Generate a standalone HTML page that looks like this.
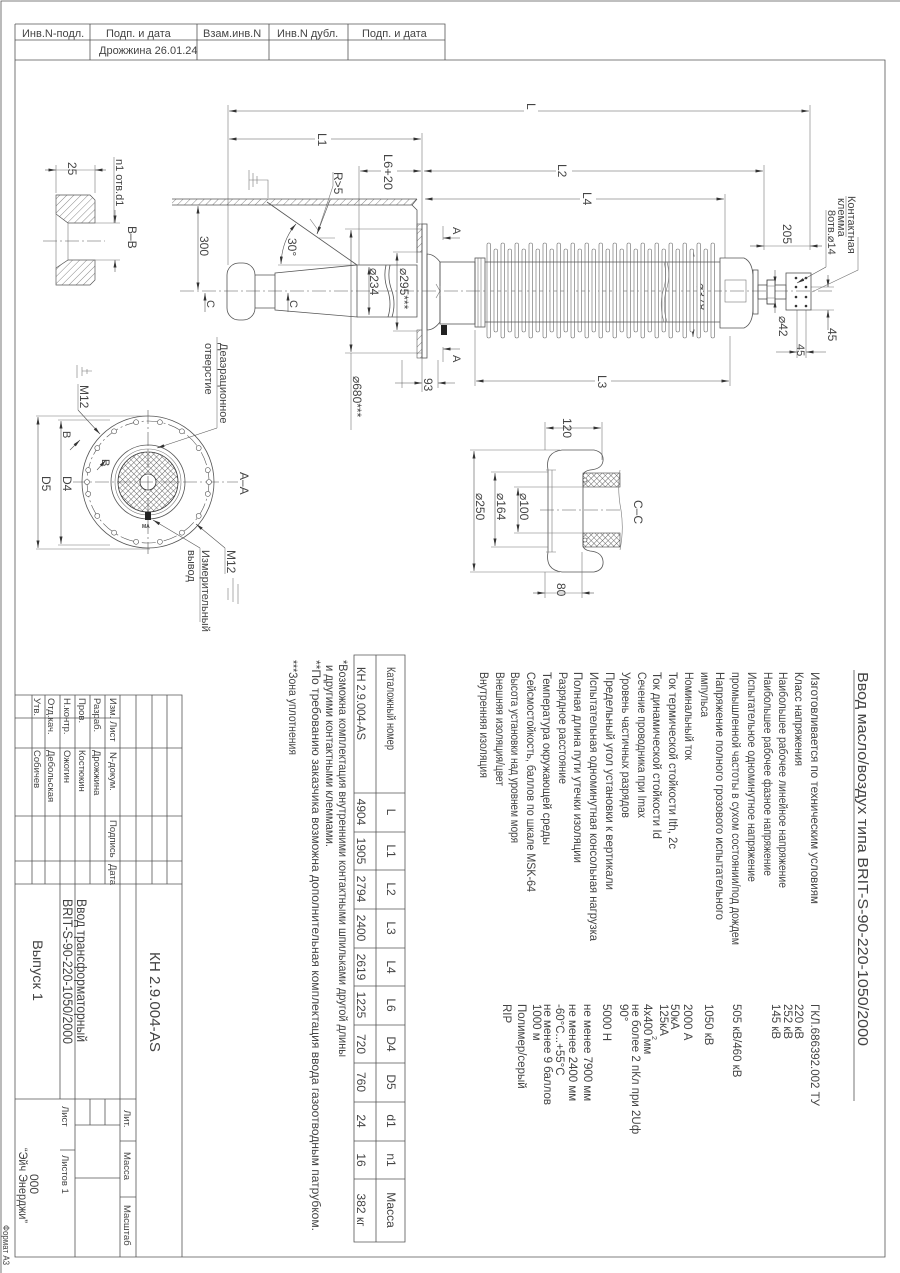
<!DOCTYPE html>
<html><head><meta charset="utf-8"><style>
html,body{margin:0;padding:0;background:#fff}
svg{display:block}
text{font-family:"Liberation Sans Narrow","Liberation Sans",sans-serif;fill:#444}
.l{stroke:#555;stroke-width:.8;fill:none}
.t{stroke:#777;stroke-width:.6;fill:none}
.d{stroke:#555;stroke-width:.6;fill:none;marker-start:url(#a);marker-end:url(#a)}
.e{stroke:#555;stroke-width:.6;fill:none;marker-end:url(#a)}
.c{stroke:#555;stroke-width:.6;fill:none;stroke-dasharray:14 3 2 3}
</style></head><body>
<svg width="900" height="1273" viewBox="0 0 900 1273" xmlns="http://www.w3.org/2000/svg">
<defs>
<marker id="a" viewBox="0 0 10 4" refX="10" refY="2" markerWidth="8" markerHeight="3" markerUnits="userSpaceOnUse" orient="auto-start-reverse"><path d="M0,0L10,2L0,4z" fill="#333"/></marker>
<pattern id="h" width="5" height="5" patternUnits="userSpaceOnUse" patternTransform="rotate(45)"><line x1="0" y1="0" x2="0" y2="5" stroke="#555" stroke-width=".7"/></pattern>
<pattern id="x" width="4" height="4" patternUnits="userSpaceOnUse" patternTransform="rotate(45)"><path d="M0,0V4M0,0H4" stroke="#444" stroke-width=".8"/></pattern>
</defs>
<rect width="900" height="1273" fill="#fff"/>
<path class="l" d="M1,1273V1H900"/>
<path class="l" d="M15,24V1257H885V60H15"/>
<path class="l" d="M15,24H445V60M15,40H445M90,24V60M197,24V60M269,24V60M348,24V60"/>
<g font-size="11">
<text x="22" y="37">Инв.N-подл.</text><text x="106" y="37">Подп. и дата</text><text x="203" y="37">Взам.инв.N</text><text x="277" y="37">Инв.N дубл.</text><text x="362" y="37">Подп. и дата</text>
<text x="99" y="54">Дрожжина 26.01.24</text>
</g>

<line class="c" x1="180" y1="291" x2="835" y2="291"/>
<path class="t" d="M228,105V265M422,133V392M359,166V265M764,165V250M810,105V250M725,194V258M730,336V386M475,330V386M402,360V388M438,360V388"/>
<line class="d" x1="229" y1="111" x2="809" y2="111"/>
<rect x="524" y="100" width="14" height="20" fill="#fff"/>
<text transform="translate(527,103) rotate(90)" font-size="12">L</text>
<line class="d" x1="229" y1="139" x2="421" y2="139"/>
<rect x="315" y="130" width="16" height="20" fill="#fff"/>
<text transform="translate(318,133) rotate(90)" font-size="12">L1</text>
<line class="d" x1="360" y1="171" x2="421" y2="171"/>
<rect x="381" y="153" width="16" height="38" fill="#fff"/>
<text transform="translate(384,154) rotate(90)" font-size="12" textLength="36" lengthAdjust="spacingAndGlyphs">L6+20</text>
<line class="d" x1="424" y1="171" x2="763" y2="171"/>
<rect x="556" y="162" width="16" height="20" fill="#fff"/>
<text transform="translate(558,164) rotate(90)" font-size="12">L2</text>
<line class="d" x1="425" y1="199" x2="724" y2="199"/>
<rect x="580" y="190" width="16" height="20" fill="#fff"/>
<text transform="translate(583,192) rotate(90)" font-size="12">L4</text>
<line class="d" x1="476" y1="381" x2="729" y2="381"/>
<rect x="595" y="372" width="16" height="22" fill="#fff"/>
<text transform="translate(598,375) rotate(90)" font-size="12">L3</text>
<line class="e" x1="395" y1="383" x2="422" y2="383"/><line class="e" x1="455" y1="383" x2="438" y2="383"/>
<text transform="translate(424,378) rotate(90)" font-size="12">93</text>
<line class="d" x1="198" y1="206" x2="198" y2="290"/>
<text transform="translate(200,236) rotate(90)" font-size="12">300</text>
<path class="t" d="M345,229H422M345,353H422M393,252H417M393,331H417"/>
<line class="d" x1="351" y1="230" x2="351" y2="352"/>
<line class="t" x1="351" y1="353" x2="351" y2="430"/>
<text transform="translate(353,376) rotate(90)" font-size="12">⌀680***</text>
<line class="d" x1="369" y1="267" x2="369" y2="315"/>
<text transform="translate(370,268) rotate(90)" font-size="12">⌀234</text>
<line class="d" x1="397" y1="253" x2="397" y2="330"/>
<text transform="translate(400,268) rotate(90)" font-size="12">⌀295***</text>
<line class="d" x1="693" y1="249" x2="693" y2="337"/>
<text transform="translate(697,283) rotate(90)" font-size="12">⌀378</text>
<line class="e" x1="750" y1="246" x2="764" y2="246"/><line class="e" x1="822" y1="246" x2="810" y2="246"/><line class="t" x1="764" y1="246" x2="810" y2="246"/>
<text transform="translate(783,224) rotate(90)" font-size="12">205</text>
<line class="e" x1="775" y1="270" x2="775" y2="284"/><line class="e" x1="775" y1="313" x2="775" y2="300"/>
<text transform="translate(779,316) rotate(90)" font-size="12">⌀42</text>
<path class="t" d="M811,287H834M811,310H834M797,310V358M806,310V358"/>
<line class="e" x1="828" y1="275" x2="828" y2="287"/><line class="e" x1="828" y1="330" x2="828" y2="310"/>
<text transform="translate(828,328) rotate(90)" font-size="12">45</text>
<line class="e" x1="776" y1="352" x2="797" y2="352"/><line class="e" x1="826" y1="352" x2="806" y2="352"/>
<text transform="translate(797,344) rotate(90)" font-size="11">45</text>

<rect x="172" y="199" width="245" height="6" fill="url(#h)"/>
<path class="l" d="M172,199H417M172,205H412L417,199M412,205L417,210V263"/>
<rect x="417" y="224" width="5" height="28" fill="url(#h)" stroke="#555" stroke-width=".6"/>
<rect x="417" y="330" width="5" height="28" fill="url(#h)" stroke="#555" stroke-width=".6"/>
<path class="t" d="M249,170V190M253,173V187M257,176V184M249,180H268V198"/>
<path class="l" d="M267,202L357,265"/>
<path class="t" d="M278,265H357M310,219L318,230M318,238H335"/>
<path class="d" d="M296,224Q282,240 281,264"/>
<text transform="translate(288,238) rotate(90)" font-size="12">30°</text>
<path class="t" d="M333,172V186L317,234"/>
<path class="e" d="M330,200L317,234"/>
<text transform="translate(334,172) rotate(90)" font-size="12">R&gt;5</text>
<path class="e" d="M205,312V293"/><path class="e" d="M288,312V293"/>
<text transform="translate(207,300) rotate(90)" font-size="11">C</text>
<text transform="translate(290,300) rotate(90)" font-size="11">C</text>
<rect class="l" x="227" y="263" width="28" height="57" rx="12"/>
<path class="l" d="M255,275H275V308H255M275,273L357,265V317L275,310Z"/>
<path class="l" d="M357,265H417V317H357M386,265Q383,278 388,291Q392,304 388,317M390,265Q387,278 392,291Q396,304 392,317"/>
<rect class="l" x="422" y="224" width="5" height="134" fill="#fff"/>
<path class="l" d="M427,254Q434,254 440,262V322Q434,330 427,330Z"/>
<rect class="l" x="440" y="262" width="35" height="62"/>
<rect class="l" x="475" y="258" width="10" height="69"/>
<path class="t" d="M478,258V327M481,258V327"/>
<path class="t" d="M436,284L440,291L436,298M440,286V296"/>
<rect x="441" y="325" width="6" height="10" fill="#222"/>
<path class="t" d="M443,226V240M443,347V362"/>
<path class="e" d="M460,238H443"/><path class="e" d="M460,349H443"/>
<text transform="translate(453,227) rotate(90)" font-size="11">A</text>
<text transform="translate(453,355) rotate(90)" font-size="11">A</text>
<g fill="#fff" stroke="#666" stroke-width=".6">
<rect x="487" y="243" width="3.5" height="95" rx="1.7"/><rect x="494" y="249" width="3.5" height="83" rx="1.7"/>
<rect x="501" y="243" width="3.5" height="95" rx="1.7"/><rect x="508" y="249" width="3.5" height="83" rx="1.7"/>
<rect x="515" y="243" width="3.5" height="95" rx="1.7"/><rect x="522" y="249" width="3.5" height="83" rx="1.7"/>
<rect x="529" y="243" width="3.5" height="95" rx="1.7"/><rect x="536" y="249" width="3.5" height="83" rx="1.7"/>
<rect x="543" y="243" width="3.5" height="95" rx="1.7"/><rect x="550" y="249" width="3.5" height="83" rx="1.7"/>
<rect x="557" y="243" width="3.5" height="95" rx="1.7"/><rect x="564" y="249" width="3.5" height="83" rx="1.7"/>
<rect x="571" y="243" width="3.5" height="95" rx="1.7"/><rect x="578" y="249" width="3.5" height="83" rx="1.7"/>
<rect x="585" y="243" width="3.5" height="95" rx="1.7"/><rect x="592" y="249" width="3.5" height="83" rx="1.7"/>
<rect x="599" y="243" width="3.5" height="95" rx="1.7"/><rect x="606" y="249" width="3.5" height="83" rx="1.7"/>
<rect x="613" y="243" width="3.5" height="95" rx="1.7"/><rect x="620" y="249" width="3.5" height="83" rx="1.7"/>
<rect x="627" y="243" width="3.5" height="95" rx="1.7"/><rect x="634" y="249" width="3.5" height="83" rx="1.7"/>
<rect x="641" y="243" width="3.5" height="95" rx="1.7"/><rect x="648" y="249" width="3.5" height="83" rx="1.7"/>
<rect x="655" y="243" width="3.5" height="95" rx="1.7"/><rect x="662" y="249" width="3.5" height="83" rx="1.7"/>
<rect x="669" y="243" width="3.5" height="95" rx="1.7"/><rect x="676" y="249" width="3.5" height="83" rx="1.7"/>
<rect x="683" y="243" width="3.5" height="95" rx="1.7"/><rect x="690" y="249" width="3.5" height="83" rx="1.7"/>
<rect x="697" y="243" width="3.5" height="95" rx="1.7"/><rect x="704" y="249" width="3.5" height="83" rx="1.7"/>
<rect x="711" y="243" width="3.5" height="95" rx="1.7"/>
</g>
<path class="l" d="M485,262H720M485,322H720"/>
<path class="t" d="M664,262Q668,276 663,291Q659,306 664,322M667,262Q671,276 666,291Q662,306 667,322"/>
<path class="l" d="M720,258H744Q753,262 753,278V308Q753,324 744,328H720Z"/>
<rect class="t" x="725" y="280" width="21" height="22"/>
<rect class="l" x="753" y="270" width="5" height="44"/>
<rect class="l" x="758" y="285" width="28" height="14"/>
<rect x="767" y="280" width="8" height="24" fill="#fff" stroke="#333" stroke-width=".8"/>
<path class="t" d="M767,286H775M767,298H775"/>
<rect class="l" x="786" y="273" width="25" height="37"/>
<g fill="#333"><circle cx="796" cy="278" r="1.3"/><circle cx="806" cy="278" r="1.3"/><circle cx="796" cy="287" r="1.3"/><circle cx="806" cy="287" r="1.3"/><circle cx="796" cy="297" r="1.3"/><circle cx="806" cy="297" r="1.3"/><circle cx="796" cy="306" r="1.3"/><circle cx="806" cy="306" r="1.3"/></g>
<path class="t" d="M826,210V267"/><path class="e" d="M826,267L797,283"/>
<path class="t" d="M846,196V237M858,237V270L812,292"/>
<text transform="translate(848,196) rotate(90)" font-size="11">Контактная</text>
<text transform="translate(838,198) rotate(90)" font-size="11">клемма</text>
<text transform="translate(828,210) rotate(90)" font-size="11">8отв.⌀14</text>

<path d="M56,195H90L95,200V223H68L56,214Z" fill="url(#h)" stroke="#555" stroke-width=".7"/>
<path d="M56,268L68,260H95V280L90,285H56Z" fill="url(#h)" stroke="#555" stroke-width=".7"/>
<path class="t" d="M68,223V260M56,214V268"/>
<line class="c" x1="43" y1="241" x2="105" y2="241"/>
<path class="t" d="M56,165V193M95,165V193M95,223H120M95,260H120"/>
<line class="e" x1="45" y1="170" x2="56" y2="170"/><line class="e" x1="106" y1="170" x2="95" y2="170"/><line class="t" x1="56" y1="170" x2="95" y2="170"/>
<text transform="translate(68,162) rotate(90)" font-size="12">25</text>
<path class="t" d="M114,157V223"/>
<line class="e" x1="115" y1="210" x2="115" y2="223"/><line class="e" x1="115" y1="272" x2="115" y2="260"/>
<text transform="translate(116,159) rotate(90)" font-size="11">n1 отв.d1</text>
<text transform="translate(128,226) rotate(90)" font-size="12">B–B</text>

<g transform="translate(148,482)">
<circle class="l" r="66"/>
<circle class="c" r="61" stroke-dasharray="10 3 2 3"/>
<circle class="l" r="37"/>
<circle class="t" r="33"/>
<circle r="30" fill="url(#x)" stroke="#333" stroke-width=".8"/>
<circle r="8" fill="#fff" stroke="#333" stroke-width=".8"/>
<line class="c" x1="-75" y1="0" x2="90" y2="0"/><line class="c" x1="0" y1="-72" x2="0" y2="72"/>
<g fill="#fff" stroke="#555" stroke-width=".6">
<circle cx="11.9" cy="-59.8" r="2.5"/><circle cx="33.9" cy="-50.7" r="2.5"/><circle cx="50.7" cy="-33.9" r="2.5"/><circle cx="59.8" cy="-11.9" r="2.5"/>
<circle cx="59.8" cy="11.9" r="2.5"/><circle cx="50.7" cy="33.9" r="2.5"/><circle cx="33.9" cy="50.7" r="2.5"/><circle cx="11.9" cy="59.8" r="2.5"/>
<circle cx="-11.9" cy="59.8" r="2.5"/><circle cx="-33.9" cy="50.7" r="2.5"/><circle cx="-50.7" cy="33.9" r="2.5"/><circle cx="-59.8" cy="11.9" r="2.5"/>
<circle cx="-59.8" cy="-11.9" r="2.5"/><circle cx="-50.7" cy="-33.9" r="2.5"/><circle cx="-33.9" cy="-50.7" r="2.5"/><circle cx="-11.9" cy="-59.8" r="2.5"/>
<circle cx="-61" cy="0" r="2.5"/><circle cx="61" cy="0" r="2.5"/>
</g>
<rect x="-3" y="30" width="6" height="8" fill="#222"/>
<text x="-6" y="46" font-size="5" font-weight="bold">МА</text>
</g>
<path class="t" d="M36,416H150M36,549H150M58,420H110M58,545H110"/>
<line class="d" x1="38" y1="417" x2="38" y2="548"/>
<line class="d" x1="61" y1="421" x2="61" y2="544"/>
<text transform="translate(42,476) rotate(90)" font-size="12">D5</text>
<text transform="translate(63,476) rotate(90)" font-size="12">D4</text>
<text transform="translate(240,472) rotate(90)" font-size="12">A–A</text>
<text transform="translate(63,431) rotate(90)" font-size="11">B</text>
<text transform="translate(102,459) rotate(90)" font-size="11">B</text>
<path class="e" d="M70,450L80,440"/><path class="e" d="M97,470L106,460"/>
<path class="t" d="M78,384V410"/><path class="e" d="M78,410L100,434"/>
<text transform="translate(80,385) rotate(90)" font-size="12">M12</text>
<path class="t" d="M77,365V378M82,367V376M87,369V374M82,371H92"/>
<path class="t" d="M217,337V428"/><path class="e" d="M217,428L157,448"/>
<text transform="translate(220,343) rotate(90)" font-size="11">Деаэрационное</text>
<text transform="translate(205,343) rotate(90)" font-size="11">отверстие</text>
<path class="t" d="M200,548V622"/><path class="e" d="M200,548L153,520"/>
<text transform="translate(202,550) rotate(90)" font-size="11">Измерительный</text>
<text transform="translate(188,550) rotate(90)" font-size="11">вывод</text>
<path class="t" d="M225,548V574"/><path class="e" d="M225,548L196,524"/>
<text transform="translate(227,550) rotate(90)" font-size="12">M12</text>
<path class="t" d="M228,588V600M233,586V602M238,584V604M233,578V594"/>

<path class="l" d="M548,470Q545,452 562,450H594Q604,452 603,461Q602,469 590,470Q584,471 583,475V546Q584,550 590,551Q602,552 603,561Q604,570 594,572H562Q545,570 548,552Z"/>
<path class="t" d="M552,470V552M546,470H556M546,552H556"/>
<rect x="583" y="473" width="37" height="14" fill="url(#x)" stroke="#444" stroke-width=".6"/>
<rect x="583" y="533" width="37" height="14" fill="url(#x)" stroke="#444" stroke-width=".6"/>
<path class="t" d="M620,470Q617,490 621,510Q624,530 620,550"/>
<circle cx="585" cy="480" r="2" fill="#fff" stroke="#333" stroke-width=".6"/><circle cx="585" cy="540" r="2" fill="#fff" stroke="#333" stroke-width=".6"/>
<line class="c" x1="540" y1="510" x2="622" y2="510"/>
<text transform="translate(634,500) rotate(90)" font-size="12">C–C</text>
<path class="t" d="M545,422V450M602,422V460M470,450H560M470,572H560M491,472H548M491,547H548M514,487H583M514,533H583M545,572V598M582,552V598"/>
<line class="d" x1="546" y1="428" x2="601" y2="428"/>
<text transform="translate(563,418) rotate(90)" font-size="12">120</text>
<line class="d" x1="474" y1="451" x2="474" y2="571"/>
<text transform="translate(476,493) rotate(90)" font-size="12">⌀250</text>
<line class="d" x1="495" y1="473" x2="495" y2="546"/>
<text transform="translate(497,493) rotate(90)" font-size="12">⌀164</text>
<line class="d" x1="518" y1="488" x2="518" y2="532"/>
<text transform="translate(520,493) rotate(90)" font-size="12">⌀100</text>
<line class="e" x1="533" y1="593" x2="545" y2="593"/><line class="e" x1="594" y1="593" x2="582" y2="593"/><line class="t" x1="545" y1="593" x2="582" y2="593"/>
<text transform="translate(557,583) rotate(90)" font-size="12">80</text>

<line class="l" x1="854" y1="670" x2="854" y2="1101"/>
<text transform="translate(858,672) rotate(90)" font-size="15" textLength="374" lengthAdjust="spacingAndGlyphs">Ввод масло/воздух  типа BRIT-S-90-220-1050/2000</text>
<g font-size="11.5">
<text transform="translate(811,672) rotate(90)" textLength="232" lengthAdjust="spacingAndGlyphs">Изготовливается по техническим условиям</text>
<text transform="translate(795,672) rotate(90)" textLength="94" lengthAdjust="spacingAndGlyphs">Класс напряжения</text>
<text transform="translate(779,672) rotate(90)" textLength="216" lengthAdjust="spacingAndGlyphs">Наибольшее рабочее линейное напряжение</text>
<text transform="translate(764,672) rotate(90)" textLength="204" lengthAdjust="spacingAndGlyphs">Наибольшее рабочее фазное напряжение</text>
<text transform="translate(748,672) rotate(90)" textLength="210" lengthAdjust="spacingAndGlyphs">Испытательное одноминутное напряжение</text>
<text transform="translate(732,672) rotate(90)" textLength="273" lengthAdjust="spacingAndGlyphs">промышленной частоты в сухом состоянии/под дождем</text>
<text transform="translate(716,672) rotate(90)" textLength="248" lengthAdjust="spacingAndGlyphs">Напряжение полного грозового испытательного</text>
<text transform="translate(701,672) rotate(90)" textLength="45" lengthAdjust="spacingAndGlyphs">импульса</text>
<text transform="translate(685,672) rotate(90)" textLength="88" lengthAdjust="spacingAndGlyphs">Номинальный ток</text>
<text transform="translate(669,672) rotate(90)" textLength="177" lengthAdjust="spacingAndGlyphs">Ток термической стойкости Ith, 2с</text>
<text transform="translate(653,672) rotate(90)" textLength="167" lengthAdjust="spacingAndGlyphs">Ток динамической стойкости Id</text>
<text transform="translate(638,672) rotate(90)" textLength="146" lengthAdjust="spacingAndGlyphs">Сечение проводника при Imax</text>
<text transform="translate(622,672) rotate(90)" textLength="146" lengthAdjust="spacingAndGlyphs">Уровень частичных разрядов</text>
<text transform="translate(606,672) rotate(90)" textLength="218" lengthAdjust="spacingAndGlyphs">Предельный угол установки к вертикали</text>
<text transform="translate(590,672) rotate(90)" textLength="269" lengthAdjust="spacingAndGlyphs">Испытательная одноминутная консольная нагрузка</text>
<text transform="translate(574,672) rotate(90)" textLength="191" lengthAdjust="spacingAndGlyphs">Полная длина пути утечки изоляции</text>
<text transform="translate(559,672) rotate(90)" textLength="112" lengthAdjust="spacingAndGlyphs">Разрядное расстояние</text>
<text transform="translate(543,672) rotate(90)" textLength="173" lengthAdjust="spacingAndGlyphs">Температура окружающей среды</text>
<text transform="translate(527,672) rotate(90)" textLength="220" lengthAdjust="spacingAndGlyphs">Сейсмостойкость, баллов по шкале MSK-64</text>
<text transform="translate(511,672) rotate(90)" textLength="171" lengthAdjust="spacingAndGlyphs">Высота установки над уровнем моря</text>
<text transform="translate(496,672) rotate(90)" textLength="114" lengthAdjust="spacingAndGlyphs">Внешняя изоляция/цвет</text>
<text transform="translate(480,672) rotate(90)" textLength="106" lengthAdjust="spacingAndGlyphs">Внутренняя изоляция</text>

<text transform="translate(811,1004) rotate(90)">ГКЛ.686392.002 ТУ</text>
<text transform="translate(795,1004) rotate(90)">220 кВ</text>
<text transform="translate(784,1004) rotate(90)">252 кВ</text>
<text transform="translate(772,1004) rotate(90)">145 кВ</text>
<text transform="translate(733,1004) rotate(90)">505 кВ/460 кВ</text>
<text transform="translate(705,1004) rotate(90)">1050 кВ</text>
<text transform="translate(684,1004) rotate(90)">2000 А</text>
<text transform="translate(671,1004) rotate(90)">50кА</text>
<text transform="translate(660,1004) rotate(90)">125кА</text>
<text transform="translate(652,1036) rotate(90)" font-size="7">2</text>
<text transform="translate(644,1004) rotate(90)">4x400 мм</text>
<text transform="translate(632,1004) rotate(90)">не более 2 пКл при 2Uф</text>
<text transform="translate(620,1004) rotate(90)">90°</text>
<text transform="translate(603,1004) rotate(90)">5000 Н</text>
<text transform="translate(584,1004) rotate(90)">не менее 7900 мм</text>
<text transform="translate(569,1004) rotate(90)">не менее 2400 мм</text>
<text transform="translate(556,1004) rotate(90)">-60°С...+55°С</text>
<text transform="translate(544,1004) rotate(90)">не менее 9 баллов</text>
<text transform="translate(533,1004) rotate(90)">1000 м</text>
<text transform="translate(518,1004) rotate(90)">Полимер/серый</text>
<text transform="translate(503,1004) rotate(90)">RIP</text>
</g>

<path class="l" d="M354,655H405V1242H354ZM376,655V1242M354,793H405M354,832H405M354,870H405M354,909H405M354,948H405M354,986H405M354,1025H405M354,1063H405M354,1102H405M354,1141H405M354,1179H405"/>
<g font-size="12">
<text transform="translate(387,667) rotate(90)" textLength="83" lengthAdjust="spacingAndGlyphs">Каталожный номер</text>
<text transform="translate(357,667) rotate(90)" textLength="73" lengthAdjust="spacingAndGlyphs">КН 2.9.004-AS</text>
</g>
<g font-size="12" text-anchor="middle">
<text transform="translate(387,812) rotate(90)">L</text><text transform="translate(357,812) rotate(90)">4904</text>
<text transform="translate(387,851) rotate(90)">L1</text><text transform="translate(357,851) rotate(90)">1905</text>
<text transform="translate(387,889) rotate(90)">L2</text><text transform="translate(357,889) rotate(90)">2794</text>
<text transform="translate(387,928) rotate(90)">L3</text><text transform="translate(357,928) rotate(90)">2400</text>
<text transform="translate(387,967) rotate(90)">L4</text><text transform="translate(357,967) rotate(90)">2619</text>
<text transform="translate(387,1005) rotate(90)">L6</text><text transform="translate(357,1005) rotate(90)">1225</text>
<text transform="translate(387,1044) rotate(90)">D4</text><text transform="translate(357,1044) rotate(90)">720</text>
<text transform="translate(387,1082) rotate(90)">D5</text><text transform="translate(357,1082) rotate(90)">760</text>
<text transform="translate(387,1121) rotate(90)">d1</text><text transform="translate(357,1121) rotate(90)">24</text>
<text transform="translate(387,1160) rotate(90)">n1</text><text transform="translate(357,1160) rotate(90)">16</text>
<text transform="translate(387,1210) rotate(90)">Масса</text><text transform="translate(357,1210) rotate(90)">382 кг</text>
</g>
<g font-size="12">
<text transform="translate(339,660) rotate(90)" textLength="397" lengthAdjust="spacingAndGlyphs">*Возможна комплектация внутренними контактными шпильками другой длины</text>
<text transform="translate(326,665) rotate(90)" textLength="182" lengthAdjust="spacingAndGlyphs">и другими контактными клеммами.</text>
<text transform="translate(312,660) rotate(90)" textLength="571" lengthAdjust="spacingAndGlyphs">**По требованию заказчика возможна дополнительная комплектация ввода газоотводным патрубком.</text>
<text transform="translate(289,660) rotate(90)" textLength="95" lengthAdjust="spacingAndGlyphs">***Зона уплотнения</text>
</g>

<path class="l" d="M15,695H182V1257M32,695V884M45,695V884M60,695V1099M75,695V1257M90,695V884M105,695V884M120,695V1257M136,695V1257M152,695V884M167,695V884M15,718H120M15,748H182M15,816H182M15,861H182M15,884H182M15,1099H136M90,1099V1125M105,1099V1125M75,1125H120M75,1178H120M60,1150H75M120,1141H136M120,1197H136"/>
<g font-size="9.5">
<text transform="translate(110,698) rotate(90)">Изм.</text><text transform="translate(110,721) rotate(90)">Лист</text><text transform="translate(110,752) rotate(90)">N-докум.</text><text transform="translate(110,820) rotate(90)">Подпись</text><text transform="translate(110,864) rotate(90)">Дата</text>
<text transform="translate(94,698) rotate(90)">Разраб.</text><text transform="translate(94,750) rotate(90)">Дрожжина</text>
<text transform="translate(79,698) rotate(90)">Пров.</text><text transform="translate(79,750) rotate(90)">Костюкин</text>
<text transform="translate(64,698) rotate(90)">Н.контр.</text><text transform="translate(64,750) rotate(90)">Ожогин</text>
<text transform="translate(48,698) rotate(90)">Отд.кач.</text><text transform="translate(48,750) rotate(90)">Дебольская</text>
<text transform="translate(34,698) rotate(90)">Утв.</text><text transform="translate(34,750) rotate(90)">Собичев</text>
<text transform="translate(124,1110) rotate(90)">Лит.</text>
<text transform="translate(124,1152) rotate(90)">Масса</text>
<text transform="translate(124,1205) rotate(90)">Масштаб</text>
<text transform="translate(62,1106) rotate(90)">Лист</text>
<text transform="translate(62,1155) rotate(90)">Листов  1</text>
</g>
<text transform="translate(150,952) rotate(90)" font-size="15" textLength="100" lengthAdjust="spacingAndGlyphs">КН 2.9.004-AS</text>
<text transform="translate(77,899) rotate(90)" font-size="14" textLength="143" lengthAdjust="spacingAndGlyphs">Ввод трансформаторный</text>
<text transform="translate(63,899) rotate(90)" font-size="14" textLength="145" lengthAdjust="spacingAndGlyphs">BRIT-S-90-220-1050/2000</text>
<text transform="translate(33,940) rotate(90)" font-size="14" textLength="61" lengthAdjust="spacingAndGlyphs">Выпуск 1</text>
<text transform="translate(30,1174) rotate(90)" font-size="12">000</text>
<text transform="translate(19,1148) rotate(90)" font-size="12" textLength="75" lengthAdjust="spacingAndGlyphs">“Эйч Энерджи”</text>
<text transform="translate(3,1225) rotate(90)" font-size="9" textLength="40" lengthAdjust="spacingAndGlyphs">Формат А3</text>
</svg>
</body></html>
